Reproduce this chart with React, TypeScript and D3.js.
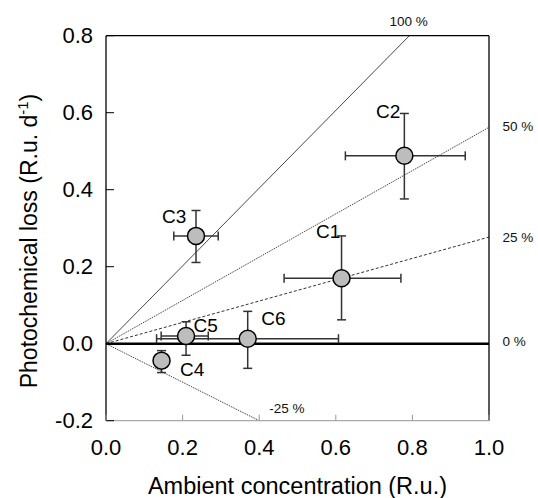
import React from "react";
import * as d3 from "d3";

const sites = ["C1", "C2", "C3", "C4", "C5", "C6"];
const xVals = [0.615, 0.779, 0.235, 0.145, 0.209, 0.37];
const yVals = [0.17, 0.488, 0.28, -0.044, 0.02, 0.013];
const xErrLo = [0.465, 0.625, 0.177, 0.135, 0.144, 0.132];
const xErrHi = [0.77, 0.938, 0.293, 0.155, 0.267, 0.607];
const yErrLo = [0.062, 0.376, 0.211, -0.075, -0.03, -0.064];
const yErrHi = [0.28, 0.598, 0.346, -0.018, 0.057, 0.084];
const labelX = [0.58, 0.737, 0.178, 0.225, 0.26, 0.437];
const labelY = [0.291, 0.604, 0.331, -0.068, 0.046, 0.066];

const refNames = ["100 %", "50 %", "25 %", "0 %", "-25 %"];
const refSlopes = [1.01, 0.562, 0.277, 0, -0.5];
const refLabelX = [0.79, 1.035, 1.035, 1.035, 0.426];
const refLabelY = [0.836, 0.565, 0.277, 0.005, -0.168];

const xTicks = [0, 0.2, 0.4, 0.6, 0.8, 1.0];
const yTicks = [-0.2, 0, 0.2, 0.4, 0.6, 0.8];

export default function App() {
  const W = 538, H = 498;
  const left = 106, right = 489, top = 35.7, bottom = 420.7;
  const x = d3.scaleLinear().domain([0, 1]).range([left, right]);
  const y = d3.scaleLinear().domain([-0.2, 0.8]).range([bottom, top]);
  const font = "'Liberation Sans', Arial, sans-serif";

  const refLine = (slope: number) => {
    let xEnd = 1;
    if (slope * xEnd > 0.8) xEnd = 0.8 / slope;
    if (slope * xEnd < -0.2) xEnd = -0.2 / slope;
    return d3.line<[number, number]>()
      .x((d) => x(d[0]))
      .y((d) => y(d[1]))([[0, 0], [xEnd, slope * xEnd]]) as string;
  };
  const refStyles = [
    { w: 0.9, dash: undefined as string | undefined, c: "#333" },
    { w: 0.9, dash: "1.5,1", c: "#333" },
    { w: 1, dash: "3,2", c: "#333" },
    { w: 2.5, dash: undefined, c: "#000" },
    { w: 0.9, dash: "1.5,1", c: "#333" },
  ];
  const cap = 4.5;

  return (
    <svg width={W} height={H} style={{ position: "absolute", left: 0, top: 0 }} fontFamily={font}>
      <rect x={0} y={0} width={W} height={H} fill="#fff" />
      {refSlopes.map((s, i) => (
        <path key={"r" + i} d={refLine(s)} fill="none" stroke={refStyles[i].c}
          strokeWidth={refStyles[i].w} strokeDasharray={refStyles[i].dash} />
      ))}
      {refNames.map((n, i) => (
        <text key={"rl" + i} x={x(refLabelX[i])} y={y(refLabelY[i])} fontSize={13.5}
          textAnchor={i === 0 ? "middle" : "start"} dominantBaseline="central" fill="#111">{n}</text>
      ))}
      <line x1={left} x2={left} y1={top} y2={bottom} stroke="#000" strokeWidth={1.3} />
      <line x1={left} x2={right} y1={top} y2={top} stroke="#000" strokeWidth={1.3} />
      <line x1={right} x2={right} y1={top} y2={bottom} stroke="#000" strokeWidth={1.3} />
      <line x1={left} x2={right} y1={bottom} y2={bottom} stroke="#aaa" strokeWidth={1.3} />
      {yTicks.map((t, i) => (
        <g key={"yt" + i}>
          <line x1={left} x2={left + 8} y1={y(t)} y2={y(t)} stroke="#000" strokeWidth={1} />
          <text x={93} y={y(t)} fontSize={22} textAnchor="end" dominantBaseline="central">{t.toFixed(1)}</text>
        </g>
      ))}
      {xTicks.map((t, i) => (
        <g key={"xt" + i}>
          <line x1={x(t)} x2={x(t)} y1={bottom} y2={bottom - 6} stroke="#999" strokeWidth={1} />
          <text x={x(t)} y={447} fontSize={22} textAnchor="middle" dominantBaseline="central">{t.toFixed(1)}</text>
        </g>
      ))}
      {sites.map((s, i) => (
        <g key={"e" + i} stroke="#333" strokeWidth={1.5}>
          <line x1={x(xErrLo[i])} x2={x(xErrHi[i])} y1={y(yVals[i])} y2={y(yVals[i])} />
          <line x1={x(xErrLo[i])} x2={x(xErrLo[i])} y1={y(yVals[i]) - cap} y2={y(yVals[i]) + cap} />
          <line x1={x(xErrHi[i])} x2={x(xErrHi[i])} y1={y(yVals[i]) - cap} y2={y(yVals[i]) + cap} />
          <line x1={x(xVals[i])} x2={x(xVals[i])} y1={y(yErrLo[i])} y2={y(yErrHi[i])} />
          <line x1={x(xVals[i]) - cap} x2={x(xVals[i]) + cap} y1={y(yErrLo[i])} y2={y(yErrLo[i])} />
          <line x1={x(xVals[i]) - cap} x2={x(xVals[i]) + cap} y1={y(yErrHi[i])} y2={y(yErrHi[i])} />
        </g>
      ))}
      {sites.map((s, i) => (
        <circle key={"c" + i} cx={x(xVals[i])} cy={y(yVals[i])} r={8.5} fill="#bdbdbd" stroke="#000" strokeWidth={1.5} />
      ))}
      {sites.map((s, i) => (
        <text key={"l" + i} x={x(labelX[i])} y={y(labelY[i])} fontSize={19} textAnchor="middle" dominantBaseline="central">{s}</text>
      ))}
      <text x={(left + right) / 2} y={494} fontSize={23.5} textAnchor="middle">Ambient concentration (R.u.)</text>
      <text transform={`translate(37,241) rotate(-90)`} fontSize={23} textAnchor="middle">
        Photochemical loss (R.u. d<tspan fontSize={15} dy={-9}>-1</tspan><tspan dy={9}>)</tspan>
      </text>
    </svg>
  );
}
